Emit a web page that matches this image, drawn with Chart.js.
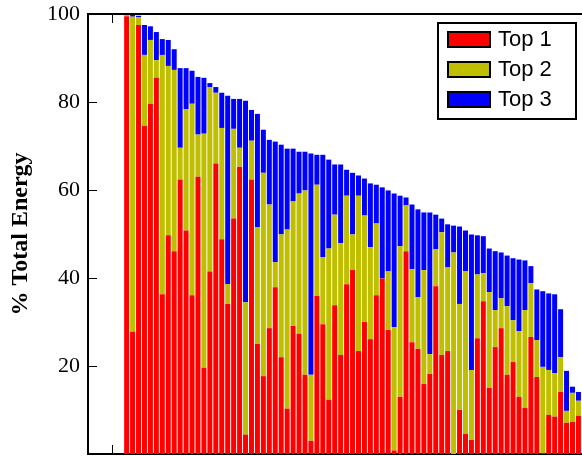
<!DOCTYPE html>
<html>
<head>
<meta charset="utf-8">
<script src="https://cdn.jsdelivr.net/npm/chart.js"></script>
<style>
  html, body { margin: 0; padding: 0; background: #fff; overflow: hidden; }
  canvas { display: block; }
</style>
</head>
<body>
<canvas id="myChart" width="582" height="456"></canvas>
<script>
// one bar per item, sorted by total share
const categories = Array.from({ length: 77 }, (_, i) => i + 1);

const seriesNames = ["Top 1", "Top 2", "Top 3"];

const top1 = [
  99.5, 27.8, 97.5, 74.6, 79.6, 85.5, 36.3, 49.7, 46.1, 62.4,
  50.8, 36.1, 63.0, 19.6, 41.5, 66.0, 48.8, 34.1, 53.5, 65.3,
  4.4, 62.4, 25.0, 17.7, 28.6, 37.9, 22.0, 10.3, 29.1, 27.3,
  18.0, 3.0, 35.9, 29.5, 12.3, 33.8, 22.5, 38.6, 41.8, 23.4,
  30.0, 26.1, 36.1, 39.9, 28.2, 0.8, 13.0, 46.1, 25.4, 23.9,
  15.9, 18.2, 38.1, 22.5, 23.4, 0.0, 10.0, 4.6, 3.2, 26.3,
  34.7, 15.0, 24.3, 28.6, 18.0, 20.9, 13.0, 10.5, 26.6, 17.5,
  0.2, 8.9, 8.5, 14.1, 7.1, 7.3, 8.7
];

const top2 = [
  0.3, 71.6, 1.8, 16.1, 14.5, 4.0, 54.4, 38.5, 41.2, 7.2,
  27.6, 43.5, 9.6, 53.2, 41.9, 16.1, 25.3, 4.5, 20.4, 4.3,
  30.1, 8.8, 26.5, 46.2, 28.1, 5.7, 27.9, 40.7, 28.3, 31.9,
  41.9, 15.0, 25.3, 15.2, 34.4, 20.6, 25.4, 20.1, 8.1, 35.3,
  24.2, 20.9, 16.3, 0.0, 13.3, 28.0, 34.2, 10.4, 16.6, 11.7,
  25.9, 4.5, 8.4, 27.9, 19.0, 45.8, 24.1, 36.9, 15.9, 14.5,
  6.4, 21.8, 8.4, 6.8, 15.6, 9.5, 14.9, 22.2, 12.2, 8.4,
  19.6, 10.2, 9.9, 7.9, 2.7, 6.6, 3.4
];

const top3 = [
  0.2, 0.4, 0.3, 6.8, 3.1, 6.4, 3.6, 5.9, 4.7, 18.1,
  9.3, 7.5, 13.1, 12.7, 0.9, 1.3, 8.0, 42.8, 6.8, 11.1,
  45.8, 7.0, 25.8, 9.8, 14.7, 27.4, 20.4, 18.4, 12.0, 9.5,
  8.8, 50.3, 6.8, 23.3, 20.2, 11.4, 17.9, 5.9, 14.0, 4.6,
  8.4, 14.5, 8.8, 20.7, 18.4, 30.4, 11.5, 1.8, 14.7, 20.0,
  13.1, 32.2, 7.9, 3.1, 9.8, 6.1, 17.6, 9.3, 30.8, 8.9,
  8.4, 9.9, 13.4, 10.4, 11.5, 14.1, 16.3, 11.3, 3.9, 11.5,
  17.2, 17.4, 17.9, 10.9, 9.1, 1.4, 2.0
];

const yTicks = [20, 40, 60, 80, 100];

const colors = ["#ff0000", "#bfbf00", "#0000ff"];

const toPoints = (values) => values.map((v, i) => ({ x: categories[i], y: v }));

// frame top line, inward tick marks and the boxed legend
const framePlugin = {
  id: "frame",
  afterDraw(chart) {
    const { ctx, chartArea, scales } = chart;
    const { left, right, top, bottom } = chartArea;
    ctx.save();
    ctx.strokeStyle = "#000";

    ctx.lineWidth = 2;
    ctx.beginPath();
    ctx.moveTo(left - 1, Math.round(top));
    ctx.lineTo(right, Math.round(top));
    ctx.stroke();

    ctx.lineWidth = 1;
    ctx.beginPath();
    yTicks.slice(0, -1).forEach((t) => {
      const y = Math.round(scales.y.getPixelForValue(t)) + 0.5;
      ctx.moveTo(left, y);
      ctx.lineTo(left + 9, y);
    });
    const xt = Math.round(scales.x.getPixelForValue(-1.5)) + 0.5;
    ctx.moveTo(xt, bottom);
    ctx.lineTo(xt, bottom - 9);
    ctx.moveTo(xt, top);
    ctx.lineTo(xt, top + 9);
    ctx.stroke();

    // legend
    const bx = right - 144, by = top + 9, bw = 138, bh = 96;
    ctx.lineWidth = 2;
    ctx.fillStyle = "#fff";
    ctx.fillRect(bx, by, bw, bh);
    ctx.strokeRect(bx, by, bw, bh);
    ctx.font = "22px 'Liberation Sans', Arial, sans-serif";
    ctx.textBaseline = "middle";
    chart.data.datasets.forEach((ds, i) => {
      const cy = by + 16 + i * 30;
      ctx.fillStyle = ds.backgroundColor;
      ctx.fillRect(bx + 10, cy - 7, 42, 15);
      ctx.strokeRect(bx + 10, cy - 7, 42, 15);
      ctx.fillStyle = "#000";
      ctx.fillText(ds.label, bx + 60, cy + 1);
    });
    ctx.restore();
  }
};

let myChart = new Chart(document.getElementById("myChart").getContext("2d"), {
  type: "bar",
  data: {
    datasets: [top1, top2, top3].map((values, i) => ({
      label: seriesNames[i],
      data: toPoints(values),
      backgroundColor: colors[i],
      borderWidth: 0,
      categoryPercentage: 1,
      barPercentage: 0.84
    }))
  },
  options: {
    responsive: false,
    animation: false,
    devicePixelRatio: 1,
    layout: { padding: { top: 14, right: 0, bottom: 0, left: 0 } },
    plugins: {
      legend: { display: false },
      tooltip: { enabled: false }
    },
    scales: {
      x: {
        type: "linear",
        stacked: true,
        offset: false,
        min: -5.5,
        max: 77.6,
        ticks: { display: false },
        grid: { display: false, drawTicks: false },
        border: { display: true, color: "#000", width: 2 },
        afterFit: (scale) => {
          scale.height = 2;
          scale.paddingLeft = 0;
          scale.paddingRight = 0;
        }
      },
      y: {
        stacked: true,
        min: 0,
        max: 100,
        afterBuildTicks: (scale) => {
          scale.ticks = yTicks.map((v) => ({ value: v }));
        },
        ticks: {
          color: "#000",
          padding: 8,
          font: { family: "'Liberation Serif', 'Times New Roman', serif", size: 22 }
        },
        grid: { display: false, drawTicks: false },
        border: { display: true, color: "#000", width: 2 },
        title: {
          display: true,
          text: "% Total Energy",
          color: "#000",
          padding: { top: 6, bottom: 0 },
          font: { family: "'Liberation Serif', 'Times New Roman', serif", size: 24, weight: "bold" }
        },
        afterFit: (scale) => {
          scale.width = 88;
          scale.paddingTop = 0;
          scale.paddingBottom = 0;
        }
      }
    }
  },
  plugins: [framePlugin]
});
</script>
</body>
</html>
